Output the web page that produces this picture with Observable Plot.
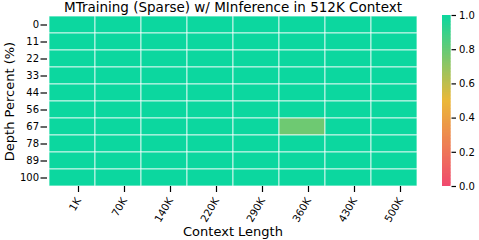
<!DOCTYPE html>
<html>
<head>
<meta charset="utf-8">
<script src="https://cdn.jsdelivr.net/npm/d3@7"></script>
<script src="https://cdn.jsdelivr.net/npm/@observablehq/plot@0.6"></script>
<style>
  body { margin: 0; background: white; }
  #chart { position: relative; width: 479px; height: 240px; }
  #chart svg { position: absolute; left: 0; top: 0; background: transparent; }
</style>
</head>
<body>
<div id="chart"></div>
<script>
const title = "MTraining (Sparse) w/ MInference in 512K Context";
const contextLengths = ["1K", "70K", "140K", "220K", "290K", "360K", "430K", "500K"];
const depthPercents = [0, 11, 22, 33, 44, 56, 67, 78, 89, 100];
// scores[row][col]: row = depth percent, col = context length
const scores = [
  [1, 1, 1, 1, 1, 1, 1, 1],
  [1, 1, 1, 1, 1, 1, 1, 1],
  [1, 1, 1, 1, 1, 1, 1, 1],
  [1, 1, 1, 1, 1, 1, 1, 1],
  [1, 1, 1, 1, 1, 1, 1, 1],
  [1, 1, 1, 1, 1, 1, 1, 1],
  [1, 1, 1, 1, 1, 0.78, 1, 1],
  [1, 1, 1, 1, 1, 1, 1, 1],
  [1, 1, 1, 1, 1, 1, 1, 1],
  [1, 1, 1, 1, 1, 1, 1, 1]
];
const colorbarTicks = [0, 0.2, 0.4, 0.6, 0.8, 1.0];
const cmapColors = ["#F0496E", "#EBB839", "#0CD79F"];

const cells = [];
depthPercents.forEach((d, i) => contextLengths.forEach((c, j) => cells.push({depth: d, ctx: c, score: scores[i][j]})));

const interp = d3.piecewise(d3.interpolateRgb, cmapColors);
const colorOpts = {type: "linear", domain: [0, 1], interpolate: t => interp(t)};
const font = "DejaVu Sans";

const main = Plot.plot({
  width: 479,
  height: 240,
  marginLeft: 47,
  marginRight: 61,
  marginTop: 16,
  marginBottom: 54,
  style: {fontFamily: font, background: "transparent", color: "black"},
  x: {type: "band", domain: contextLengths, padding: 0},
  y: {type: "band", domain: depthPercents, padding: 0},
  color: colorOpts,
  marks: [
    Plot.cell(cells, {x: "ctx", y: "depth", fill: "score", stroke: "white", strokeWidth: 1, strokeOpacity: 0.75}),
    Plot.axisY({tickSize: 6.5, tickPadding: 2, fontSize: 10, strokeWidth: 1.2, label: null}),
    Plot.axisX({tickSize: 6, tickPadding: 6, fontSize: 10.3, strokeWidth: 1.2, tickRotate: -60,
      textAnchor: "end", lineAnchor: "middle", dx: 6, label: null}),
    Plot.text(["Depth Percent (%)"], {frameAnchor: "left", rotate: -90, dx: -37.5, fontSize: 13, textAnchor: "middle", lineAnchor: "middle", fill: "black"}),
    Plot.text(["Context Length"], {frameAnchor: "bottom", dy: 45.5, fontSize: 13, textAnchor: "middle", lineAnchor: "middle", fill: "black"}),
    Plot.text([title], {frameAnchor: "top", dy: -8.5, fontSize: 13.5, textAnchor: "middle", lineAnchor: "middle", fill: "black"})
  ]
});

const N = 120;
const steps = d3.range(N);
const bar = Plot.plot({
  width: 479,
  height: 240,
  marginLeft: 442,
  marginRight: 28.5,
  marginTop: 15,
  marginBottom: 54,
  style: {fontFamily: font, background: "transparent", color: "black"},
  x: {domain: [0, 1], axis: null},
  y: {domain: [0, 1]},
  color: colorOpts,
  marks: [
    Plot.rect(steps, {x1: 0, x2: 1, y1: i => i / N, y2: i => Math.min(1, (i + 1.8) / N), fill: i => (i + 0.5) / N}),
    Plot.axisY({anchor: "right", ticks: colorbarTicks, tickFormat: d3.format(".1f"), tickSize: 4.5, tickPadding: 3.5, fontSize: 10, strokeWidth: 1.2, label: null})
  ]
});

const chart = document.getElementById("chart");
chart.appendChild(main);
chart.appendChild(bar);
</script>
</body>
</html>
